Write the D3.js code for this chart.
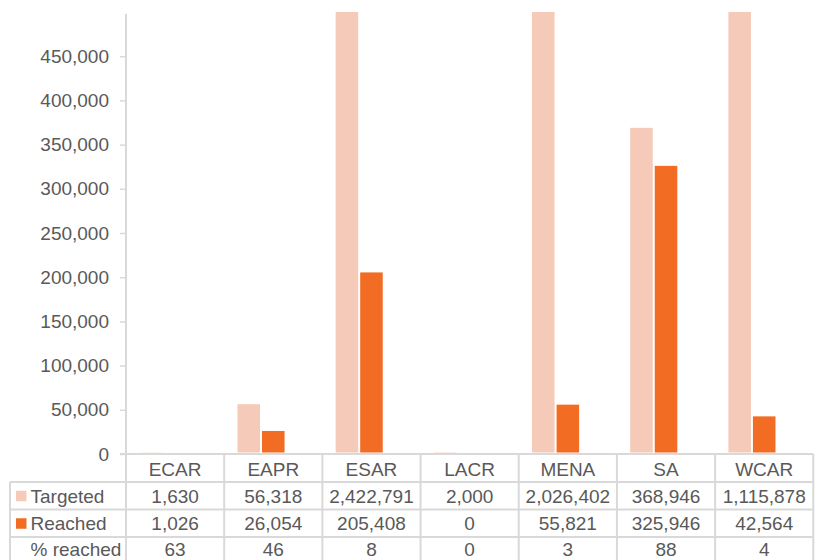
<!DOCTYPE html>
<html>
<head>
<meta charset="utf-8">
<script src="https://cdn.jsdelivr.net/npm/d3@7/dist/d3.min.js"></script>
<style>
  html, body { margin: 0; padding: 0; background: #fff; }
  svg { display: block; }
  text { font-family: "Liberation Sans", Arial, sans-serif; fill: #595959; }
</style>
</head>
<body>
<svg id="chart" width="817" height="560"></svg>
<script>
// Regions shown along the category axis
const regions = ["ECAR", "EAPR", "ESAR", "LACR", "MENA", "SA", "WCAR"];
// Series values per region
const targeted = [1630, 56318, 2422791, 2000, 2026402, 368946, 1115878];
const reached = [1026, 26054, 205408, 0, 55821, 325946, 42564];
const pctReached = [63, 46, 8, 0, 3, 88, 4];
// Series names (the third one has no fill and only shows in the table)
const seriesNames = ["Targeted", "Reached", "% reached"];
const seriesColors = ["#F5CAB8", "#F26C23", "none"];
// Value axis ticks
const yTicks = [0, 50000, 100000, 150000, 200000, 250000, 300000, 350000, 400000, 450000];
const yMax = 500000;

const svg = d3.select("#chart");
const FONT = 19;
const gridColor = "#d9d9d9";

const plotLeft = 126, plotRight = 813.3, plotTop = 12, plotBottom = 454;
const tableLeft = 10;
const rowH = 27.5;

const x = d3.scaleBand().domain(regions).range([plotLeft, plotRight]).paddingInner(0).paddingOuter(0);
const bw = x.bandwidth();
const x1 = d3.scaleBand().domain(seriesNames).range([bw * 0.125, bw * 0.875]).padding(0);
const y = d3.scaleLinear().domain([0, yMax]).range([plotBottom, plotTop]);

const series = [targeted, reached, pctReached];
const rows = seriesNames.map((name, i) => ({ name, color: seriesColors[i], values: series[i] }));

// Clip for bars that run past the top of the value axis (bottom stops at the axis line)
svg.append("defs").append("clipPath").attr("id", "plotClip")
  .append("rect").attr("x", plotLeft).attr("y", plotTop)
  .attr("width", plotRight - plotLeft).attr("height", plotBottom - 1.5 - plotTop);

// Bars
const barsG = svg.append("g").attr("clip-path", "url(#plotClip)");
rows.forEach(row => {
  if (row.color === "none") return;
  barsG.selectAll(null)
    .data(regions.map((r, i) => ({ region: r, value: row.values[i] })))
    .join("rect")
    .attr("x", d => x(d.region) + x1(row.name) + 1)
    .attr("width", x1.bandwidth() - 2)
    .attr("y", d => y(d.value))
    .attr("height", d => Math.max(0, y(0) - y(d.value)))
    .attr("fill", row.color);
});

// Value axis
const yAxis = d3.axisLeft(y).tickValues(yTicks).tickSize(6).tickPadding(11)
  .tickFormat(d3.format(","));
const yAxisG = svg.append("g").attr("transform", `translate(${plotLeft},0)`).call(yAxis);
yAxisG.select(".domain").remove();
yAxisG.selectAll(".tick line").attr("stroke", gridColor).attr("stroke-width", 1.5);
yAxisG.selectAll(".tick text").attr("font-size", FONT).style("fill", "#595959")
  .attr("font-family", "Liberation Sans, Arial, sans-serif");

// Vertical axis line
svg.append("line").attr("x1", plotLeft).attr("x2", plotLeft)
  .attr("y1", 14).attr("y2", 560)
  .attr("stroke", gridColor).attr("stroke-width", 2);

// Zero line / top of the data table
svg.append("line").attr("x1", plotLeft - 6).attr("x2", plotRight)
  .attr("y1", plotBottom).attr("y2", plotBottom)
  .attr("stroke", gridColor).attr("stroke-width", 2);

// Data table
const table = svg.append("g");
const headerBottom = plotBottom + 28;

// Horizontal row separators
[0, 1, 2].forEach(i => {
  const yy = headerBottom + i * rowH;
  table.append("line").attr("x1", tableLeft).attr("x2", plotRight)
    .attr("y1", yy).attr("y2", yy).attr("stroke", gridColor).attr("stroke-width", 2);
});
// Left edge of the table rows
table.append("line").attr("x1", tableLeft).attr("x2", tableLeft)
  .attr("y1", headerBottom).attr("y2", 560).attr("stroke", gridColor).attr("stroke-width", 2);
// Column separators
regions.forEach((r, i) => {
  const xx = x(r) + bw;
  table.append("line").attr("x1", xx).attr("x2", xx)
    .attr("y1", plotBottom).attr("y2", 560).attr("stroke", gridColor).attr("stroke-width", 2);
});

// Category header
table.selectAll(null).data(regions).join("text")
  .attr("x", d => x(d) + bw / 2)
  .attr("y", plotBottom + 15)
  .attr("dy", "0.35em")
  .attr("text-anchor", "middle")
  .attr("font-size", FONT)
  .text(d => d);

const fmt = d3.format(",");
rows.forEach((row, ri) => {
  // last row sits against the bottom edge, keep its text inside the frame
  const cy = headerBottom + ri * rowH + rowH / 2 + (ri === 2 ? -1.5 : 0.5);
  if (row.color !== "none") {
    table.append("rect").attr("x", 16).attr("y", cy - 5.5)
      .attr("width", 10.5).attr("height", 10.5).attr("fill", row.color);
  }
  table.append("text").attr("x", 30.5).attr("y", cy).attr("dy", "0.35em")
    .attr("font-size", FONT).text(row.name);
  table.selectAll(null).data(regions).join("text")
    .attr("x", d => x(d) + bw / 2)
    .attr("y", cy)
    .attr("dy", "0.35em")
    .attr("text-anchor", "middle")
    .attr("font-size", FONT)
    .text((d, i) => fmt(row.values[i]));
});
</script>
</body>
</html>
